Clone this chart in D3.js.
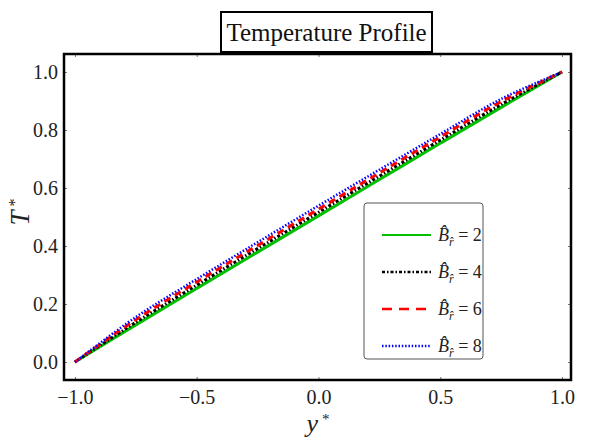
<!DOCTYPE html>
<html>
<head>
<meta charset="utf-8">
<script src="https://cdn.jsdelivr.net/npm/d3@7"></script>
<style>
  body { margin: 0; background: #fff; }
  svg text { font-family: "Liberation Serif", serif !important; }
</style>
</head>
<body>
<div id="chart"></div>
<script>
// y* positions where the curves were read
const yStar = [-1, -0.75, -0.5, -0.25, 0, 0.25, 0.5, 0.75, 1];

// T* for each Br value
const tBr2 = [0, 0.128, 0.254, 0.379, 0.504, 0.629, 0.754, 0.878, 1];
const tBr4 = [0, 0.137, 0.265, 0.391, 0.516, 0.641, 0.765, 0.888, 1];
const tBr6 = [0, 0.146, 0.276, 0.402, 0.527, 0.652, 0.776, 0.898, 1];
const tBr8 = [0, 0.155, 0.286, 0.413, 0.539, 0.663, 0.786, 0.907, 1];

const brValues = ["2", "4", "6", "8"];
const xTicks = [-1, -0.5, 0, 0.5, 1];
const yTicks = [0, 0.2, 0.4, 0.6, 0.8, 1];

function init() {
    const width = 591;
    const height = 438;
    const frame = { left: 64, right: 571, top: 54, bottom: 380 };

    const svg = d3.select("#chart")
        .append("svg")
        .attr("width", width)
        .attr("height", height)
        .attr("font-family", "Liberation Serif");

    const x = d3.scaleLinear().domain([-1.045, 1.037]).range([frame.left, frame.right]);
    const y = d3.scaleLinear().domain([-0.062, 1.062]).range([frame.bottom, frame.top]);

    // series styles
    const series = [
        { values: tBr2, color: "#00c000", width: 3, dash: null },
        { values: tBr4, color: "#000000", width: 3, dash: "3,2,1.5,2" },
        { values: tBr6, color: "#ff0000", width: 3, dash: "7,5" },
        { values: tBr8, color: "#0000ff", width: 2.5, dash: "1.5,1.8" }
    ];

    const line = d3.line()
        .x((d, i) => x(yStar[i]))
        .y(d => y(d))
        .curve(d3.curveCatmullRom);

    svg.append("clipPath").attr("id", "clip")
        .append("rect")
        .attr("x", frame.left).attr("y", frame.top)
        .attr("width", frame.right - frame.left)
        .attr("height", frame.bottom - frame.top);

    const plot = svg.append("g").attr("clip-path", "url(#clip)");
    series.forEach(s => {
        plot.append("path")
            .attr("d", line(s.values))
            .attr("fill", "none")
            .attr("stroke", s.color)
            .attr("stroke-width", s.width)
            .attr("stroke-dasharray", s.dash);
    });

    // ticks on all four sides, pointing inward
    const tickLen = 3;
    const axisFmt = d => d3.format(".1f")(d).replace("-", "\u2212");
    const bottomAxis = svg.append("g")
        .attr("transform", `translate(0,${frame.bottom})`)
        .call(d3.axisBottom(x).tickValues(xTicks).tickSize(-tickLen).tickPadding(10).tickFormat(axisFmt));
    const topAxis = svg.append("g")
        .attr("transform", `translate(0,${frame.top})`)
        .call(d3.axisTop(x).tickValues(xTicks).tickSize(-tickLen).tickFormat(""));
    const leftAxis = svg.append("g")
        .attr("transform", `translate(${frame.left},0)`)
        .call(d3.axisLeft(y).tickValues(yTicks).tickSize(-tickLen).tickPadding(6).tickFormat(axisFmt));
    const rightAxis = svg.append("g")
        .attr("transform", `translate(${frame.right},0)`)
        .call(d3.axisRight(y).tickValues(yTicks).tickSize(-tickLen).tickFormat(""));

    [bottomAxis, topAxis, leftAxis, rightAxis].forEach(a => {
        a.attr("font-family", "Liberation Serif");
        a.select(".domain").remove();
        a.selectAll(".tick line").attr("stroke", "#777").attr("stroke-width", 1);
        a.selectAll(".tick text")
            .attr("font-family", "Liberation Serif")
            .attr("font-size", 20)
            .attr("fill", "#222");
    });

    // frame
    svg.append("rect")
        .attr("x", frame.left).attr("y", frame.top)
        .attr("width", frame.right - frame.left)
        .attr("height", frame.bottom - frame.top)
        .attr("fill", "none")
        .attr("stroke", "#000")
        .attr("stroke-width", 2.5);

    // title box
    svg.append("rect")
        .attr("x", 221).attr("y", 12)
        .attr("width", 211).attr("height", 40)
        .attr("fill", "#fff")
        .attr("stroke", "#000")
        .attr("stroke-width", 2);
    svg.append("text")
        .attr("x", 326.5).attr("y", 41)
        .attr("text-anchor", "middle")
        .attr("font-size", 25)
        .attr("fill", "#111")
        .text("Temperature Profile");

    // axis titles
    const xTitle = svg.append("text")
        .attr("x", 318).attr("y", 432)
        .attr("text-anchor", "middle")
        .attr("font-size", 26)
        .attr("font-style", "italic")
        .attr("fill", "#222");
    xTitle.append("tspan").text("y");
    xTitle.append("tspan").attr("dy", -8).attr("font-size", 15).attr("font-style", "normal").text(" *");

    const yTitle = svg.append("text")
        .attr("transform", "translate(29,212) rotate(-90)")
        .attr("text-anchor", "middle")
        .attr("font-size", 27)
        .attr("font-style", "italic")
        .attr("fill", "#222");
    yTitle.append("tspan").text("T");
    yTitle.append("tspan").attr("dy", -9).attr("font-size", 16).attr("font-style", "normal").text(" *");

    // legend
    const legend = svg.append("g").attr("transform", "translate(364,203)");
    legend.append("rect")
        .attr("width", 119).attr("height", 156)
        .attr("rx", 3)
        .attr("fill", "#fff")
        .attr("stroke", "#555")
        .attr("stroke-width", 1);

    const legendY = d3.scalePoint().domain(brValues).range([32, 143]);
    series.forEach((s, i) => {
        const g = legend.append("g").attr("transform", `translate(0,${legendY(brValues[i])})`);
        g.append("line")
            .attr("x1", 18).attr("x2", 67)
            .attr("stroke", s.color)
            .attr("stroke-width", i === 0 ? 2 : 2.5)
            .attr("stroke-dasharray", i === 2 ? "10,7" : s.dash);
        const t = g.append("text")
            .attr("x", 74).attr("y", 6)
            .attr("font-size", 18)
            .attr("fill", "#222");
        t.append("tspan").attr("font-style", "italic").text("B\u0302");
        t.append("tspan").attr("font-style", "italic").attr("font-size", 12).attr("dy", 5).text("r\u0302");
        t.append("tspan").attr("dy", -5).text(" = " + brValues[i]);
    });
}
window.onload = init;
</script>
</body>
</html>
